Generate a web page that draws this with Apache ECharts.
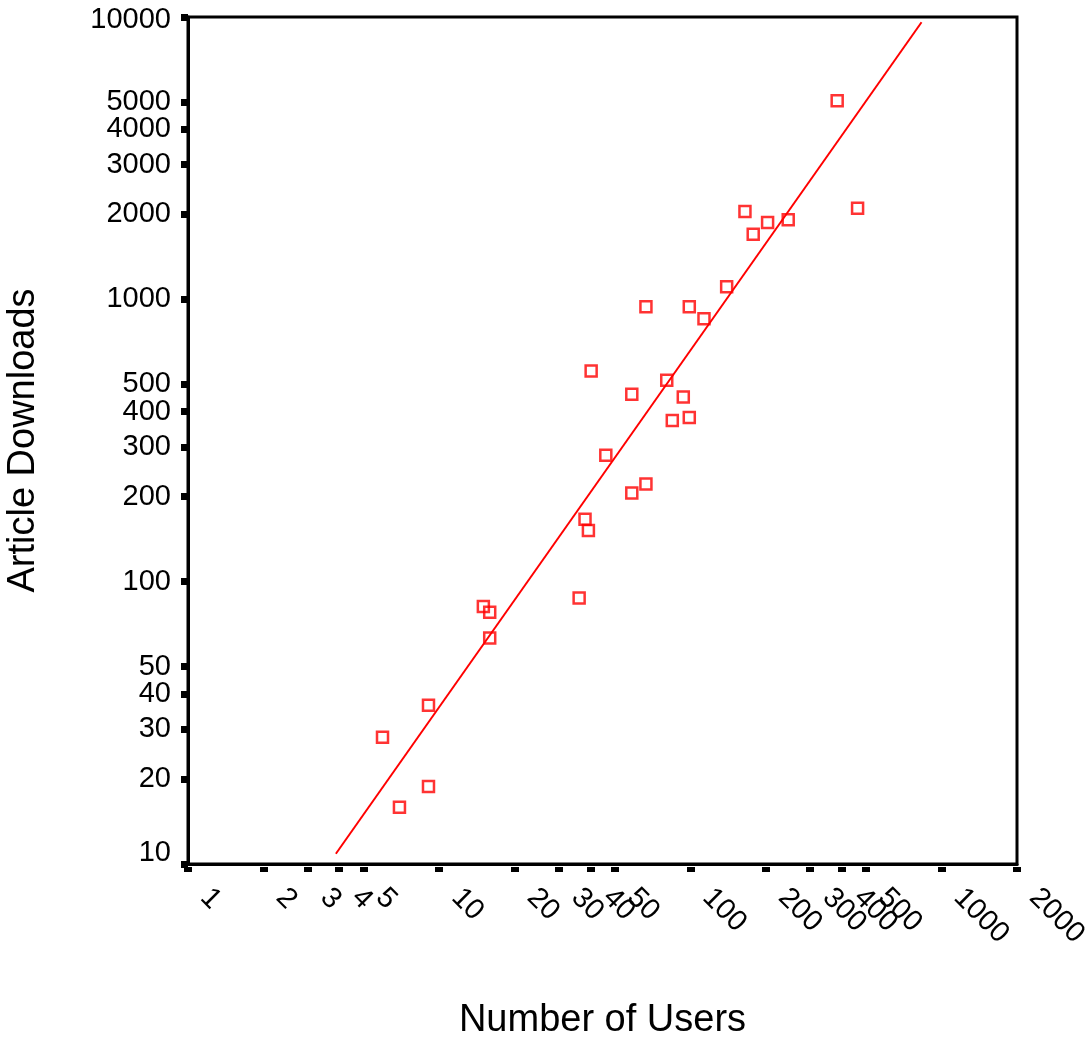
<!DOCTYPE html>
<html>
<head>
<meta charset="utf-8">
<script src="https://cdn.jsdelivr.net/npm/echarts@6/dist/echarts.min.js"></script>
<style>
html,body{margin:0;padding:0;background:#fff;}
#chart{width:1086px;height:1044px;}
</style>
</head>
<body>
<div id="chart"></div>
<script>
// Data (log-log scatter)
const usersX = [5.95, 6.95, 9.07, 9.07, 15.0, 15.9, 15.9, 36.1, 38.1, 39.3, 40.3, 46.1, 58.5, 58.5, 66.6, 66.6, 80.6, 84.8, 93.8, 99.1, 99.1, 113.4, 139.6, 165.1, 178.1, 203.2, 245.5, 384.6, 463.7];
const downloadsY = [28.1, 15.9, 36.5, 18.8, 81.6, 77.9, 63.2, 87.6, 166.5, 151.8, 557.9, 280.3, 461.2, 205.9, 941.3, 221.6, 517.1, 372.0, 451.2, 941.3, 381.3, 853.6, 1108, 2046, 1701, 1870, 1912, 5054, 2103];
const fitX = [3.88, 833.4];
const fitY = [10.87, 9583];
const xTicks = [1, 2, 3, 4, 5, 10, 20, 30, 40, 50, 100, 200, 300, 400, 500, 1000, 2000];
const yTicks = [10, 20, 30, 40, 50, 100, 200, 300, 400, 500, 1000, 2000, 3000, 4000, 5000, 10000];
const xTitle = 'Number of Users';
const yTitle = 'Article Downloads';

const FONT = 'Liberation Sans, Arial, sans-serif';
const TICK_FS = 29;
const TITLE_FS = 38;
const points = usersX.map((x, i) => [x, downloadsY[i]]);
const fitLine = fitX.map((x, i) => [x, fitY[i]]);

const chart = echarts.init(document.getElementById('chart'), null, {renderer: 'canvas'});
chart.setOption({
  animation: false,
  backgroundColor: '#fff',
  grid: {
    left: 188, right: 69, top: 17, bottom: 180,
    show: true, borderColor: '#000', borderWidth: 3,
    outerBoundsMode: 'none', containLabel: false
  },
  xAxis: [
    {
      type: 'log', logBase: 10, min: 1, max: 2000, position: 'bottom',
      axisLine: {show: true, onZero: false, lineStyle: {color: '#000', width: 3}},
      axisTick: {show: false},
      axisLabel: {show: false},
      splitLine: {show: false},
      minorTick: {show: false},
      name: xTitle, nameLocation: 'middle', nameGap: 138,
      nameTextStyle: {fontSize: TITLE_FS, fontFamily: FONT, color: '#000'}
    },
    {
      type: 'log', logBase: 10, min: 1, max: 2000, position: 'bottom', offset: 3,
      axisLine: {show: false, onZero: false},
      axisTick: {show: true, customValues: xTicks, length: 5, lineStyle: {color: '#000', width: 8}},
      axisLabel: {
        show: true, customValues: xTicks, rotate: -45, margin: 9,
        padding: [0, 0, 0, 24],
        fontSize: TICK_FS, fontFamily: FONT, color: '#000',
        showMinLabel: true, showMaxLabel: true, hideOverlap: false,
        formatter: v => String(Math.round(v))
      },
      splitLine: {show: false}
    }
  ],
  yAxis: {
    type: 'log', logBase: 10, min: 10, max: 10000,
    axisLine: {show: true, onZero: false, lineStyle: {color: '#000', width: 3}},
    axisTick: {show: true, customValues: yTicks, length: 7, lineStyle: {color: '#000', width: 7}},
    axisLabel: {
      show: true, customValues: yTicks, margin: 17,
      fontSize: TICK_FS, fontFamily: FONT, color: '#000',
      showMinLabel: true, showMaxLabel: true, hideOverlap: false,
      formatter: v => {
        const n = Math.round(v);
        if (n === 10) return '{lo|10}';
        if (n === 10000) return '{hi|10000}';
        return String(n);
      },
      rich: {
        lo: {fontSize: TICK_FS, fontFamily: FONT, color: '#000', padding: [0, 0, 22, 0]},
        hi: {fontSize: TICK_FS, fontFamily: FONT, color: '#000', padding: [6, 0, 0, 0]}
      }
    },
    splitLine: {show: false},
    name: yTitle, nameLocation: 'middle', nameGap: 145,
    nameTextStyle: {fontSize: TITLE_FS, fontFamily: FONT, color: '#000'}
  },
  series: [
    {
      type: 'line', xAxisIndex: 0, yAxisIndex: 0,
      data: fitLine, showSymbol: false, symbol: 'none',
      lineStyle: {color: '#ff0000', width: 2},
      silent: true, z: 2
    },
    {
      type: 'scatter', xAxisIndex: 0, yAxisIndex: 0,
      data: points, symbol: 'rect', symbolSize: 11,
      itemStyle: {color: 'rgba(255,255,255,0)', borderColor: '#ff0000', borderWidth: 2.5},
      z: 3
    }
  ]
});
</script>
</body>
</html>
